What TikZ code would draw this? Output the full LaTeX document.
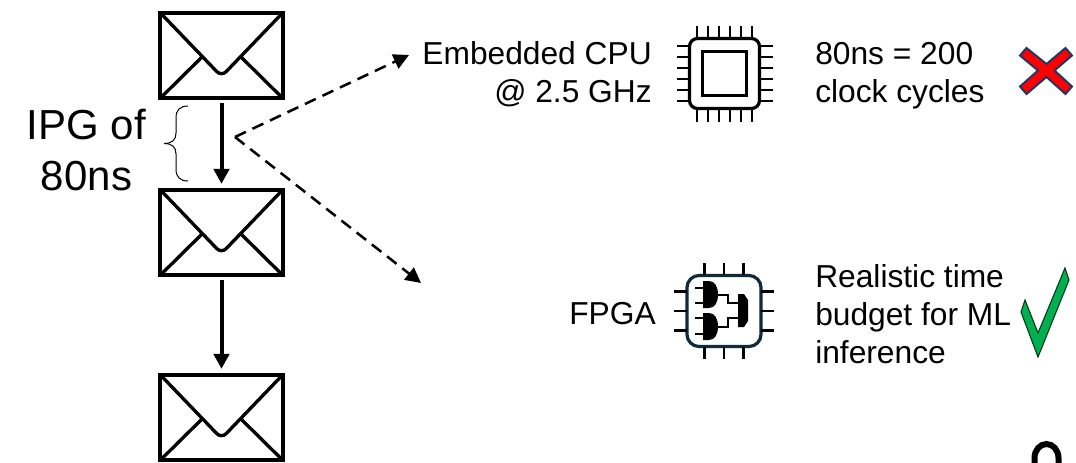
\documentclass[tikz,border=0pt]{standalone}
\usepackage{fontspec}
\setmainfont{Liberation Sans}
\usetikzlibrary{arrows.meta}
\definecolor{navy}{HTML}{1F3864}
\definecolor{fpgaedge}{HTML}{10293B}
\definecolor{okgreen}{HTML}{00B050}
\tikzset{
  x=0.75pt,y=-0.75pt,
  envbox/.style={draw=black,line width=2.9pt,fill=white,minimum width=92.5pt,minimum height=64pt,inner sep=0pt,outer sep=0pt},
  envline/.style={draw=black,line width=2.5pt},
  solidarrow/.style={draw=black,line width=3pt,-{Triangle[length=11.25pt,width=11.5pt]},shorten >=4.5pt,shorten <=3.5pt},
  dasharrow/.style={draw=black,line width=1.9pt,dash pattern=on 9pt off 5.5pt,-{Triangle[length=11.5pt,width=11.5pt]}},
  bigtext/.style={font=\fontsize{31.5pt}{38pt}\selectfont,align=center,inner sep=0pt},
  midtext/.style={font=\fontsize{23.8pt}{28.6pt}\selectfont,inner sep=0pt},
  pinline/.style={line width=2.1pt},
  gatewire/.style={line width=1.9pt},
}
\begin{document}
\begin{tikzpicture}
\useasboundingbox (0,0) rectangle (1076,462);
\clip (0,0) rectangle (1076,462);
% envelopes
\foreach \n/\cy in {envA/55.5,envB/232.5,envC/417.5}{
  \node[envbox] (\n) at (221.5,\cy) {};
  \begin{scope}[shift={(221.5,\cy)}]
    \draw[envline,rounded corners=5pt] (-61,-42.5) -- (0,21) -- (61,-42.5);
    \draw[envline] (-61,42.5) -- (-19,1);
    \draw[envline] (61,42.5) -- (19,1);
  \end{scope}
}
\draw[solidarrow] (envA.south) -- (envB.north);
\draw[solidarrow] (envB.south) -- (envC.north);
% IPG label
\node[bigtext] (ipg) at (86.5,150) {IPG of\\80ns};
\coordinate (braceT) at (188,106);
\coordinate (braceB) at (188,181);
\coordinate (braceTip) at (164,143.5);
\draw[black,line width=0.75pt] (braceT) .. controls (180,106) and (176,110) .. (176,118) -- (176,133) .. controls (176,140) and (172,143.5) .. (braceTip);
\draw[black,line width=0.75pt] (braceB) .. controls (180,181) and (176,177) .. (176,169) -- (176,154) .. controls (176,147) and (172,143.5) .. (braceTip);
% dashed
\coordinate (fork) at (235,137);
\coordinate (cpuEnd) at (409,55);
\coordinate (fpgaEnd) at (421,283);
\draw[dasharrow] (fork) -- (cpuEnd);
\draw[dasharrow] (fork) -- (fpgaEnd);
% labels
\node[midtext,anchor=east,align=right] (cputxt) at (652,74) {Embedded CPU\\@ 2.5 GHz};
\node[midtext,anchor=west,align=left] (cycles) at (815,76) {80ns = 200\\clock cycles};
\node[midtext,anchor=east] (fpgatxt) at (656,314) {FPGA};
\node[midtext,anchor=west,align=left] (budget) at (815,314.5) {Realistic time\\budget for ML\\inference};
% CPU icon
\begin{scope}[shift={(724.5,73.5)}]
  \draw[line width=2.4pt,rounded corners=6pt] (-35,-35) rectangle (35,35);
  \draw[line width=2.4pt] (-22,-22) rectangle (22,22);
  \foreach \p in {-27.5,-16.5,-5.5,5.5,16.5,27.5}{
    \draw[pinline] (\p,-35) -- (\p,-48);
    \draw[pinline] (\p,35) -- (\p,48);
    \draw[pinline] (-35,\p) -- (-48,\p);
    \draw[pinline] (35,\p) -- (48,\p);
  }
\end{scope}
% FPGA icon
\begin{scope}[shift={(724,311)}]
  \draw[draw=fpgaedge,line width=2.4pt,rounded corners=9pt] (-37,-35.5) rectangle (37,35.5);
  \foreach \p in {-19.5,0,19.5}{
    \draw[pinline] (\p,-36) -- (\p,-48);
    \draw[pinline] (\p,36) -- (\p,48);
    \draw[pinline] (-37,\p) -- (-50,\p);
    \draw[pinline] (37,\p) -- (50,\p);
  }
  % gates
  \fill (-21,-30) -- (-15,-30) .. controls (-9,-30) and (-6,-24) .. (-6,-16.5) .. controls (-6,-9) and (-9,-3) .. (-15,-3) -- (-21,-3) -- cycle;
  \fill (-21,2) -- (-15,2) .. controls (-9,2) and (-6,8) .. (-6,15.5) .. controls (-6,23) and (-9,29) .. (-15,29) -- (-21,29) -- cycle;
  \fill (14,-17) -- (20,-17) -- (24,-11) -- (24,10) -- (20,16) -- (14,16) -- cycle;
  \draw[gatewire] (-29,-23) -- (-21,-23) (-29,-8) -- (-21,-8) (-29,7) -- (-21,7) (-29,23) -- (-21,23);
  \draw[gatewire] (-7,-16) -- (4,-16) -- (4,-8) -- (14,-8);
  \draw[gatewire] (-7,16) -- (4,16) -- (4,7) -- (14,7);
\end{scope}
% red cross
\fill[red,draw=navy,line width=1.5pt,line join=miter]
  (1026.5,48) -- (1046.5,64) -- (1065.5,48) -- (1072,55.5) -- (1054.5,70.5) -- (1072,86.5) -- (1065.5,94) -- (1046.5,77) -- (1026.5,94) -- (1020,86.5) -- (1038,70.5) -- (1020,55.5) -- cycle;
% check
\fill[okgreen,draw=black!70!okgreen,line width=0.8pt]
  (1025,300) -- (1038,333) -- (1065,268) -- (1069,280) -- (1038,357) -- (1021,312) -- cycle;
% fragment of a glyph cut by the lower edge
\draw[line width=4.5pt] (1034.5,470) -- (1034.5,458) arc[start angle=180,end angle=360,x radius=12,y radius=14] -- (1058.5,470);
\end{tikzpicture}
\end{document}
